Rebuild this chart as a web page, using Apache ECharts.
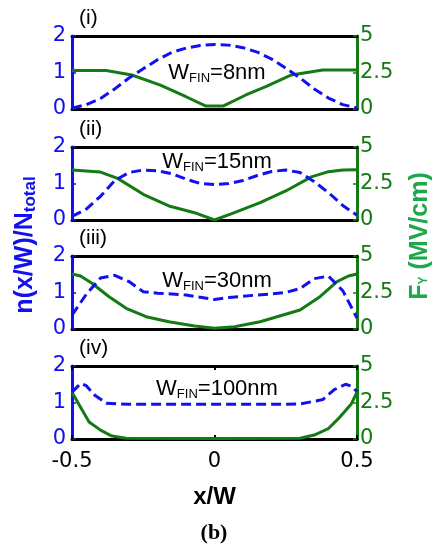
<!DOCTYPE html>
<html>
<head>
<meta charset="utf-8">
<script src="https://cdn.jsdelivr.net/npm/echarts@6/dist/echarts.min.js"></script>
<style>
  html, body { margin: 0; padding: 0; background: #fff; }
  #chart { width: 443px; height: 546px; }
</style>
</head>
<body>
<div id="chart"></div>
<script>
// x positions (x/W) for the density curves
var xBlue = [-0.5, -0.45, -0.4, -0.35, -0.3, -0.25, -0.2, -0.15, -0.1, -0.05, 0,
             0.05, 0.1, 0.15, 0.2, 0.25, 0.3, 0.35, 0.4, 0.45, 0.5];

// n(x/W)/Ntotal, panels (i)-(iii)
var blue8 = [0.02, 0.12, 0.29, 0.55, 0.85, 1.1, 1.35, 1.55, 1.67, 1.74, 1.77,
             1.75, 1.68, 1.56, 1.37, 1.12, 0.85, 0.55, 0.3, 0.12, 0.03];
var blue15 = [0.1, 0.3, 0.65, 1.08, 1.3, 1.37, 1.35, 1.27, 1.12, 1.0, 0.97,
              1.0, 1.08, 1.22, 1.33, 1.37, 1.3, 1.05, 0.75, 0.4, 0.13];
var blue30 = [0.38, 0.95, 1.4, 1.47, 1.3, 1.02, 0.98, 0.96, 0.93, 0.87, 0.81,
              0.86, 0.9, 0.93, 0.96, 1.0, 1.11, 1.38, 1.45, 1.05, 0.3];
// panel (iv) has sharper edges
var xBlue100 = [-0.5, -0.47, -0.45, -0.42, -0.38, -0.3, -0.2, -0.1, 0, 0.1, 0.2, 0.3, 0.38, 0.42, 0.46, 0.48, 0.5];
var blue100 = [1.28, 1.52, 1.46, 1.2, 0.98, 0.95, 0.95, 0.95, 0.95, 0.95, 0.95, 0.96, 1.08, 1.35, 1.5, 1.45, 1.3];

// Fy (MV/cm)
var xGreen8 = [-0.5, -0.38, -0.29, -0.19, -0.1, -0.03, 0.03, 0.11, 0.18, 0.27, 0.38, 0.5];
var green8 = [2.63, 2.63, 2.33, 1.64, 0.84, 0.2, 0.2, 0.96, 1.53, 2.33, 2.67, 2.67];
var xGreen15 = [-0.5, -0.4, -0.34, -0.25, -0.16, -0.07, 0, 0.07, 0.16, 0.25, 0.34, 0.4, 0.45, 0.5];
var green15 = [3.42, 3.28, 2.85, 1.76, 0.96, 0.5, 0, 0.5, 1.19, 1.99, 2.95, 3.31, 3.42, 3.45];
var xGreen30 = [-0.5, -0.47, -0.43, -0.37, -0.31, -0.24, -0.16, -0.07, 0, 0.07, 0.16, 0.3, 0.37, 0.43, 0.47, 0.5];
var green30 = [3.77, 3.63, 3.13, 2.21, 1.42, 0.84, 0.5, 0.21, 0.05, 0.16, 0.5, 1.3, 2.21, 3.24, 3.63, 3.77];
var xGreen100 = [-0.5, -0.47, -0.44, -0.4, -0.36, -0.31, 0, 0.3, 0.35, 0.4, 0.44, 0.48, 0.5];
var green100 = [3.2, 2.18, 1.17, 0.61, 0.2, 0.05, 0.03, 0.05, 0.27, 0.72, 1.5, 2.4, 3.2];

var panelTags = ['(i)', '(ii)', '(iii)', '(iv)'];
var finWidths = ['8nm', '15nm', '30nm', '100nm'];
var xTicks = [-0.5, 0, 0.5];

var BLUE = '#1010f0';
var GREEN = '#147a14';
var GREEN_NAME = '#1fa84a';
var FONT = 'Liberation Sans, Arial, sans-serif';
var TICKFONT = 'DejaVu Sans, sans-serif';

var blues = [[xBlue, blue8], [xBlue, blue15], [xBlue, blue30], [xBlue100, blue100]];
var greens = [[xGreen8, green8], [xGreen15, green15], [xGreen30, green30], [xGreen100, green100]];
var tops = [36, 147, 256, 366];
var H = 73;

function pairs(xs, ys) {
  return xs.map(function (x, i) { return [x, ys[i]]; });
}

var grid = [], xAxis = [], yAxis = [], series = [], graphic = [];

tops.forEach(function (t, i) {
  var last = i === 3;
  grid.push({left: 72, right: 86, top: t, height: H});
  // bottom x axis
  xAxis.push({
    type: 'value', gridIndex: i, min: -0.5, max: 0.5, interval: 0.5,
    axisLine: {onZero: false, lineStyle: {color: '#000', width: 3}},
    axisTick: {show: last, inside: true, length: 4, lineStyle: {color: '#000', width: 2}},
    axisLabel: {show: last, color: '#000', fontSize: 21, fontFamily: TICKFONT, margin: 12,
      formatter: function (v) { return xTicks.indexOf(v) >= 0 ? String(v) : ''; }},
    splitLine: {show: false},
    name: last ? 'x/W' : '', nameLocation: 'middle', nameGap: 46,
    nameTextStyle: {color: '#000', fontSize: 24, fontWeight: 'bold', fontFamily: FONT}
  });
  // top x axis (frame)
  xAxis.push({
    type: 'value', gridIndex: i, position: 'top', min: -0.5, max: 0.5, interval: 0.5,
    axisLine: {onZero: false, lineStyle: {color: '#000', width: 3}},
    axisTick: {show: last, inside: true, length: 4, lineStyle: {color: '#000', width: 2}},
    axisLabel: {show: false}, splitLine: {show: false}
  });
  yAxis.push({
    type: 'value', gridIndex: i, min: 0, max: 2, interval: 1,
    axisLine: {onZero: false, lineStyle: {color: BLUE, width: 3}},
    axisTick: {inside: true, length: 4, lineStyle: {color: BLUE, width: 1.5}},
    axisLabel: {color: BLUE, fontSize: 21, fontFamily: TICKFONT, margin: 6},
    splitLine: {show: false}
  });
  yAxis.push({
    type: 'value', gridIndex: i, position: 'right', min: 0, max: 5, interval: 2.5,
    axisLine: {onZero: false, lineStyle: {color: GREEN, width: 3}},
    axisTick: {inside: true, length: 4, lineStyle: {color: GREEN, width: 1.5}},
    axisLabel: {color: GREEN, fontSize: 21, fontFamily: TICKFONT, margin: 3},
    splitLine: {show: false}
  });
  series.push({
    type: 'line', xAxisIndex: 2 * i, yAxisIndex: 2 * i, symbol: 'none',
    data: pairs(blues[i][0], blues[i][1]),
    lineStyle: {color: BLUE, width: 3, type: [10, 5]}, z: 3
  });
  series.push({
    type: 'line', xAxisIndex: 2 * i, yAxisIndex: 2 * i + 1, symbol: 'none',
    data: pairs(greens[i][0], greens[i][1]),
    lineStyle: {color: GREEN, width: 3}, z: 2
  });
  graphic.push({
    type: 'text', left: 79, top: t - 28,
    style: {text: panelTags[i], fill: '#000', font: '21px ' + FONT}
  });
  graphic.push({
    type: 'text', x: 217, y: [73, 162, 281, 389][i], z: 10,
    style: {
      text: '{w|W}{s|FIN}{w|=' + finWidths[i] + '}',
      align: 'center', verticalAlign: 'middle',
      rich: {
        w: {fontSize: 22, fontFamily: FONT, fill: '#000', color: '#000'},
        s: {fontSize: 13, fontFamily: FONT, fill: '#000', color: '#000', padding: [10, 0, 0, 0]}
      }
    }
  });
});

// y axis names
graphic.push({
  type: 'text', x: 25, y: 245, rotation: Math.PI / 2,
  style: {
    text: '{a|n(x/W)/N}{b|total}', align: 'center', verticalAlign: 'middle',
    rich: {
      a: {fontSize: 25, fontWeight: 'bold', fontFamily: FONT, fill: BLUE, color: BLUE},
      b: {fontSize: 17, fontWeight: 'bold', fontFamily: FONT, fill: BLUE, color: BLUE, padding: [10, 0, 0, 0]}
    }
  }
});
graphic.push({
  type: 'text', x: 420, y: 236, rotation: Math.PI / 2,
  style: {
    text: '{a|F}{b|Y}{a| (MV/cm)}', align: 'center', verticalAlign: 'middle',
    rich: {
      a: {fontSize: 25, fontWeight: 'bold', fontFamily: FONT, fill: GREEN_NAME, color: GREEN_NAME},
      b: {fontSize: 12, fontWeight: 'bold', fontFamily: FONT, fill: GREEN_NAME, color: GREEN_NAME, padding: [8, 0, 0, 0]}
    }
  }
});
graphic.push({
  type: 'text', x: 214, y: 533,
  style: {text: '(b)', align: 'center', verticalAlign: 'middle', fill: '#000',
    font: 'bold 22px Liberation Serif, Times New Roman, serif'}
});

var chart = echarts.init(document.getElementById('chart'), null, {renderer: 'canvas'});
chart.setOption({
  animation: false,
  grid: grid,
  xAxis: xAxis,
  yAxis: yAxis,
  series: series,
  graphic: graphic
});
</script>
</body>
</html>
